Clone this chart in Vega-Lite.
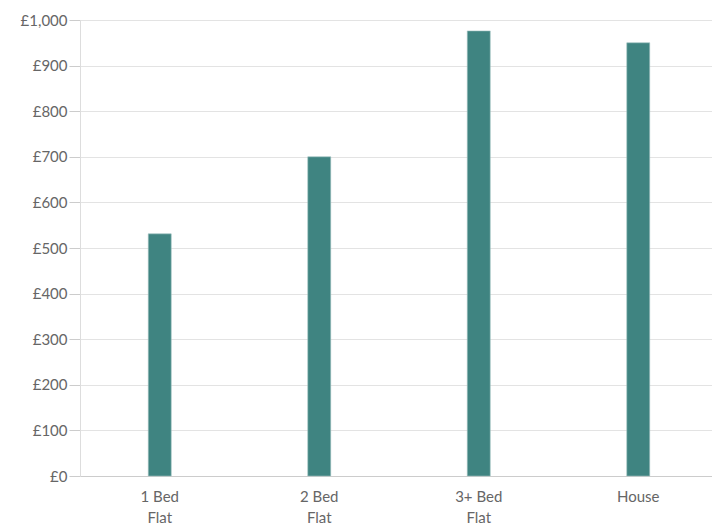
{
  "$schema": "https://vega.github.io/schema/vega-lite/v6.json",
  "autosize": "none",
  "padding": {"left": 80, "top": 20, "right": 0, "bottom": 51},
  "width": 638,
  "height": 456,
  "background": "white",
  "data": {
    "values": [
      {"type": "1 Bed Flat", "rent": 531},
      {"type": "2 Bed Flat", "rent": 700},
      {"type": "3+ Bed Flat", "rent": 976},
      {"type": "House", "rent": 950}
    ]
  },
  "config": {
    "view": {"stroke": null},
    "font": "Lato",
    "axis": {"labelFont": "Lato", "labelColor": "#666666", "labelFontSize": 15, "labelFontWeight": "normal"}
  },
  "mark": {"type": "bar", "color": "#3f8481", "stroke": "#9fc1bf", "strokeWidth": 0.6},
  "encoding": {
    "x": {
      "field": "type",
      "type": "nominal",
      "sort": null,
      "scale": {"paddingInner": 0.856, "paddingOuter": 0.428},
      "axis": {
        "title": null,
        "labelAngle": 0,
        "ticks": false,
        "domainColor": "#cccccc",
        "labelPadding": 13,
        "labelLineHeight": 21,
        "labelExpr": "datum.value == 'House' ? 'House' : [replace(datum.value, ' Flat', ''), 'Flat']"
      }
    },
    "y": {
      "field": "rent",
      "type": "quantitative",
      "scale": {"domain": [0, 1000], "nice": false},
      "axis": {
        "title": null,
        "values": [0, 100, 200, 300, 400, 500, 600, 700, 800, 900, 1000],
        "labelOverlap": false,
        "labelExpr": "'£' + format(datum.value, ',')",
        "gridColor": "#e3e3e3",
        "domainColor": "#dddddd",
        "ticks": true,
        "tickColor": "#cccccc",
        "tickSize": 11,
        "labelPadding": 2
      }
    }
  }
}
